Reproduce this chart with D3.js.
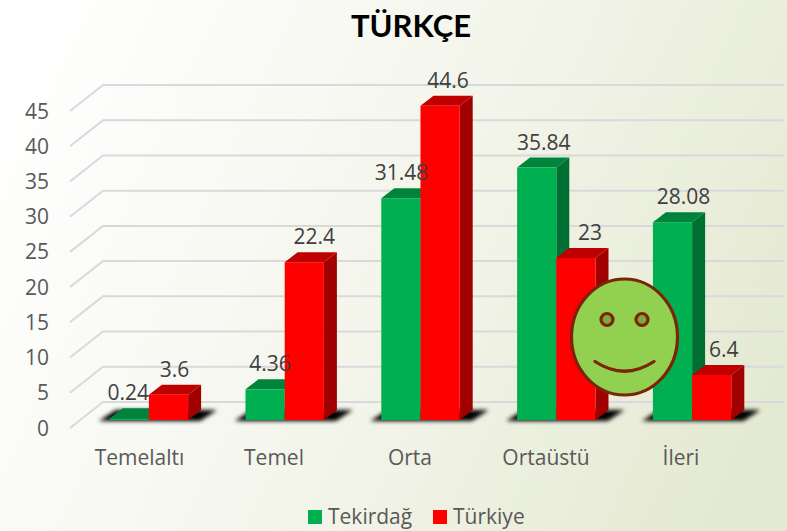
<!DOCTYPE html>
<html><head><meta charset="utf-8">
<script src="https://cdn.jsdelivr.net/npm/d3@7"></script>
<style>html,body{margin:0;padding:0;background:#fff}svg{display:block}text{font-family:"Open Sans",Lato,sans-serif}</style>
</head><body><svg id="c" width="787" height="531"></svg>
<script>
const categories = ["Temelaltı","Temel","Orta","Ortaüstü","İleri"];
const tekirdag = [0.24,4.36,31.48,35.84,28.08];
const turkiye = [3.6,22.4,44.6,23,6.4];
const yTicks = [0,5,10,15,20,25,30,35,40,45];
const seriesNames = ["Tekirdağ","Türkiye"];
const chartTitle = "TÜRKÇE";

const svg = d3.select("#c");
const defs = svg.append("defs");
const g = defs.append("linearGradient").attr("id","bg").attr("gradientUnits","userSpaceOnUse")
  .attr("x1",30).attr("y1",30).attr("x2",790).attr("y2",380);
g.append("stop").attr("offset",0).attr("stop-color","#ffffff");
g.append("stop").attr("offset",0.45).attr("stop-color","#f5f7ee");
g.append("stop").attr("offset",1).attr("stop-color","#e4e9d1");
const f = defs.append("filter").attr("id","blur").attr("x","-20%").attr("y","-60%").attr("width","140%").attr("height","220%");
f.append("feGaussianBlur").attr("stdDeviation",2);
svg.append("rect").attr("width",787).attr("height",531).attr("fill","url(#bg)");

const y = d3.scaleLinear().domain([0,45]).range([428,111]);
const band = d3.scaleBand().domain(categories).range([81,760]);
const barW = 39.2;
const x0 = c => band(c) + band.bandwidth()/2 - barW;
const barD = {x:13,y:10};
const wall = {x:33,y:26};
const gridRight = 784;
const h = v => y(0) - y(v);
const base = 420;

const grid = svg.append("g").attr("fill","none").attr("stroke","#d9d9dc").attr("stroke-width",2);
grid.selectAll("path").data(yTicks).join("path")
  .attr("d",t => d3.line()([[70,y(t)],[70+wall.x,y(t)-wall.y],[gridRight,y(t)-wall.y]]));

svg.append("g").selectAll("text").data(yTicks).join("text")
  .attr("x",49).attr("y",t=>y(t)+7.5).attr("text-anchor","end")
  .attr("font-size",21).attr("fill","#595959").text(t=>t);

svg.append("g").attr("filter","url(#blur)").selectAll("path").data(categories).join("path")
  .attr("fill","#000")
  .attr("d",c=>{const l=x0(c),r=l+2*barW;
    return d3.line()([[l-11,base+1],[l+6,base-10],[r+29,base-10],[r+12,base+1]])+"Z";});

const series = [{vals:tekirdag,off:0,front:"#00b050",top:"#00843c",side:"#006f32"},
                {vals:turkiye,off:1,front:"#ff0000",top:"#bf0000",side:"#a00000"}];
const bars = svg.append("g");
categories.forEach((c,i)=>{
  series.forEach(s=>{
    const l = x0(c)+s.off*barW, r=l+barW, v=s.vals[i], t=base-h(v);
    const b = bars.append("g");
    b.append("path").attr("fill",s.side).attr("d",d3.line()([[r,t],[r+barD.x,t-barD.y],[r+barD.x,base-barD.y],[r,base]])+"Z");
    b.append("path").attr("fill",s.top).attr("d",d3.line()([[l,t],[l+barD.x,t-barD.y],[r+barD.x,t-barD.y],[r,t]])+"Z");
    b.append("rect").attr("x",l).attr("y",t).attr("width",barW).attr("height",h(v)).attr("fill",s.front);
  });
});

const nudge = [[-1,5,0.5,7,11],[6,10,8,14,12]];
const labels = svg.append("g").attr("font-size",21).attr("fill","#404040").attr("text-anchor","middle");
categories.forEach((c,i)=>{
  series.forEach((s,k)=>{
    const l = x0(c)+s.off*barW, v=s.vals[i];
    labels.append("text").attr("x",l+barW/2+nudge[k][i]).attr("y",base-h(v)-barD.y-8).text(v);
  });
});

svg.append("g").selectAll("text").data(categories).join("text")
  .attr("x",(c,i)=>[139.5,274,410,546,681][i]).attr("y",465).attr("text-anchor","middle")
  .attr("font-size",21).attr("fill","#595959").text(c=>c);

svg.append("text").attr("x",411).attr("y",37).attr("text-anchor","middle")
  .attr("font-size",31).attr("font-weight",700).attr("fill","#000").style("font-family","Lato").text(chartTitle);

const lx=[308,433];
seriesNames.forEach((n,k)=>{
  svg.append("rect").attr("x",lx[k]).attr("y",510).attr("width",14).attr("height",14).attr("fill",series[k].front);
  svg.append("text").attr("x",lx[k]+20).attr("y",524).attr("font-size",21).attr("fill","#595959").text(n);
});

const sm = svg.append("g").attr("stroke","#7b2408").attr("stroke-width",3.2);
sm.append("ellipse").attr("cx",624.5).attr("cy",337).attr("rx",53).attr("ry",58).attr("fill","#92d050");
[607,642].forEach(cx=>sm.append("circle").attr("cx",cx).attr("cy",319.5).attr("r",6).attr("fill","#7da73f"));
sm.append("path").attr("fill","none").attr("stroke-linecap","round").attr("d","M595 361.5Q624.5 381 654 361.5");
</script></body></html>
